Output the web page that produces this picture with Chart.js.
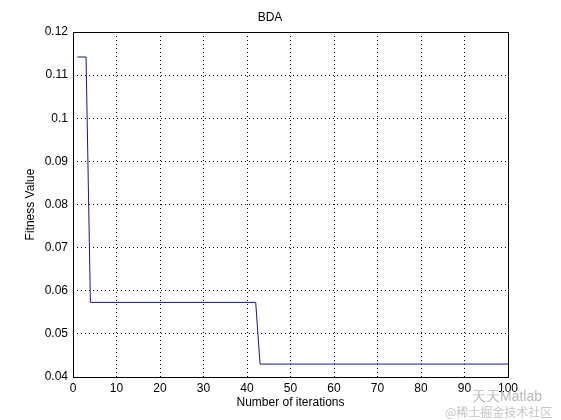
<!DOCTYPE html>
<html>
<head>
<meta charset="utf-8">
<script src="https://cdn.jsdelivr.net/npm/chart.js@4"></script>
<style>
  body { margin: 0; background: #fff; }
  #wrap { position: relative; width: 561px; height: 420px; }
  #marca1 { position: absolute; left: 472px; top: 388px; font: 14px "Liberation Sans", sans-serif; color: #b8b8b8; }
  #marca2 { position: absolute; left: 445px; top: 403px; font: 12px "Noto Sans CJK SC", sans-serif; color: #c4c4c4; }
</style>
</head>
<body>
<div id="wrap">
  <canvas id="myChart" width="561" height="420"></canvas>
  <div id="marca1">天天Matlab</div>
  <div id="marca2">@稀土掘金技术社区</div>
</div>
<script>
// pontos de quebra da curva (iteração, fitness)
var iteracoes = [1, 3, 4, 42, 43, 100]
var fitness = [0.1142, 0.1142, 0.0573, 0.0573, 0.0430, 0.0430]

var ticksX = [0, 10, 20, 30, 40, 50, 60, 70, 80, 90, 100]
var ticksY = [0.04, 0.05, 0.06, 0.07, 0.08, 0.09, 0.1, 0.11, 0.12]

var titulo = 'BDA'

var pontos = []
for (var i = 0; i < iteracoes.length; i++) {
    pontos.push({ x: iteracoes[i], y: fitness[i] })
}

var fonte = { family: '"Liberation Sans", Arial, sans-serif', size: 12 }

// fundo branco, caixa sólida e título (centralizado como no matlab)
var caixa = {
    id: 'caixa',
    beforeDraw: function (chart) {
        var c = chart.ctx
        c.save()
        c.fillStyle = '#fff'
        c.fillRect(0, 0, chart.width, chart.height)
        c.restore()
    },
    afterDraw: function (chart) {
        var a = chart.chartArea
        var c = chart.ctx
        c.save()
        c.strokeStyle = '#000'
        c.lineWidth = 1
        c.strokeRect(Math.round(a.left) + 0.5, Math.round(a.top) + 0.5, Math.round(a.right - a.left), Math.round(a.bottom - a.top))
        c.fillStyle = '#000'
        c.font = '12px "Liberation Sans", Arial, sans-serif'
        c.textAlign = 'center'
        c.textBaseline = 'middle'
        c.fillText(titulo, 270, 18)
        c.restore()
    }
}

const ctx = document.getElementById('myChart')
var grafico = new Chart(ctx, {
    type: 'line',
    data: {
        datasets: [{
            label: titulo,
            data: pontos,
            borderColor: '#16168e',
            borderWidth: 1,
            pointRadius: 0,
            tension: 0
        }]
    },
    plugins: [caixa],
    options: {
        responsive: false,
        animation: false,
        layout: { padding: { left: 0, right: 53, top: 32, bottom: 0 } },
        plugins: {
            legend: { display: false },
            tooltip: { enabled: false },
            title: { display: false }
        },
        scales: {
            x: {
                type: 'linear',
                min: 0,
                max: 100,
                afterBuildTicks: function (s) { s.ticks = ticksX.map(function (v) { return { value: v } }) },
                afterFit: function (s) { s.height = 43 },
                ticks: { color: '#000', font: fonte, padding: 4, maxRotation: 0 },
                grid: { color: '#000', drawTicks: false, lineWidth: 1 },
                border: { display: false, dash: [1, 3] },
                title: { display: true, text: 'Number of iterations', color: '#000', font: fonte, padding: { top: 0, bottom: 10 } }
            },
            y: {
                min: 0.04,
                max: 0.12,
                afterBuildTicks: function (s) { s.ticks = ticksY.map(function (v) { return { value: v } }) },
                afterFit: function (s) { s.width = 73 },
                ticks: {
                    color: '#000', font: fonte, padding: 5,
                    callback: function (v) { return String(Math.round(v * 100) / 100) }
                },
                grid: { color: '#000', drawTicks: false, lineWidth: 1 },
                border: { display: false, dash: [1, 3] },
                title: { display: true, text: 'Fitness Value', color: '#000', font: fonte, padding: { top: 23, bottom: 0 } }
            }
        }
    }
})
</script>
</body>
</html>
